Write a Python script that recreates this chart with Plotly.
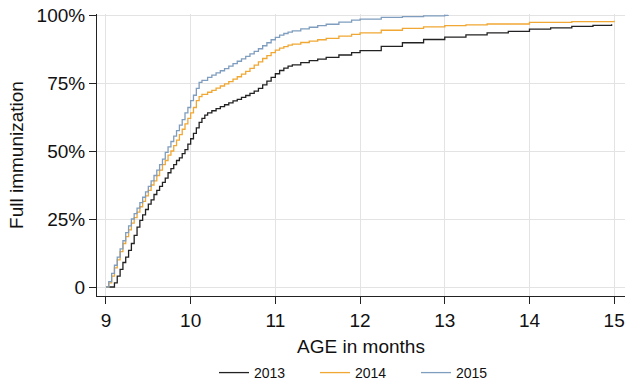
import plotly.graph_objects as go

# ---- data (age in months, cumulative share fully immunized) ----
age_2013 = [9.000, 9.033, 9.067, 9.100, 9.133, 9.167, 9.200, 9.233, 9.267, 9.300,
            9.333, 9.367, 9.400, 9.433, 9.467, 9.500, 9.533, 9.567, 9.600, 9.633,
            9.667, 9.700, 9.733, 9.767, 9.800, 9.833, 9.867, 9.900, 9.933, 9.967,
            10.000, 10.033, 10.067, 10.100, 10.133, 10.167, 10.2, 10.25, 10.3, 10.35,
            10.4, 10.45, 10.5, 10.55, 10.6, 10.65, 10.7, 10.75, 10.8, 10.85,
            10.9, 10.95, 11.0, 11.05, 11.1, 11.15, 11.2, 11.3, 11.4, 11.5,
            11.6, 11.75, 11.9, 12.0, 12.25, 12.5, 12.75, 13.0, 13.25, 13.5,
            13.75, 14.0, 14.25, 14.5, 14.75, 14.97]
imm_2013 = [0.0, 0.0, 0.0, 0.015, 0.04, 0.065, 0.09, 0.11, 0.135, 0.16,
            0.19, 0.22, 0.245, 0.265, 0.285, 0.305, 0.32, 0.34, 0.355, 0.37,
            0.385, 0.40, 0.42, 0.435, 0.45, 0.465, 0.475, 0.49, 0.505, 0.525,
            0.545, 0.565, 0.585, 0.605, 0.62, 0.632, 0.64, 0.648, 0.656, 0.663,
            0.67, 0.677, 0.684, 0.69, 0.697, 0.704, 0.712, 0.72, 0.73, 0.743,
            0.757, 0.771, 0.784, 0.796, 0.805, 0.812, 0.817, 0.825, 0.832, 0.838,
            0.844, 0.853, 0.862, 0.869, 0.885, 0.898, 0.91, 0.919, 0.927, 0.934,
            0.94, 0.948, 0.953, 0.958, 0.962, 0.966]

age_2014 = [9.000, 9.033, 9.067, 9.100, 9.133, 9.167, 9.200, 9.233, 9.267, 9.300,
            9.333, 9.367, 9.400, 9.433, 9.467, 9.500, 9.533, 9.567, 9.600, 9.633,
            9.667, 9.700, 9.733, 9.767, 9.800, 9.833, 9.867, 9.900, 9.933, 9.967,
            10.000, 10.033, 10.067, 10.100, 10.133, 10.2, 10.25, 10.3, 10.35, 10.4,
            10.45, 10.5, 10.55, 10.6, 10.65, 10.7, 10.75, 10.8, 10.85, 10.9,
            10.95, 11.0, 11.05, 11.1, 11.15, 11.2, 11.3, 11.4, 11.5, 11.6,
            11.75, 11.9, 12.0, 12.25, 12.5, 12.75, 13.0, 13.25, 13.5, 14.0,
            14.5, 15.0]
imm_2014 = [0.0, 0.015, 0.04, 0.07, 0.10, 0.13, 0.16, 0.185, 0.21, 0.235,
            0.255, 0.275, 0.295, 0.315, 0.335, 0.355, 0.375, 0.39, 0.41, 0.43,
            0.45, 0.465, 0.485, 0.50, 0.52, 0.54, 0.56, 0.58, 0.60, 0.62,
            0.64, 0.66, 0.685, 0.70, 0.708, 0.716, 0.723, 0.731, 0.739, 0.747,
            0.755, 0.764, 0.773, 0.783, 0.793, 0.804, 0.816, 0.828, 0.84, 0.851,
            0.862, 0.871, 0.878, 0.884, 0.889, 0.893, 0.899, 0.904, 0.909, 0.914,
            0.922, 0.929, 0.934, 0.944, 0.951, 0.956, 0.961, 0.964, 0.967, 0.973,
            0.976, 0.979]

age_2015 = [9.000, 9.033, 9.067, 9.100, 9.133, 9.167, 9.200, 9.233, 9.267, 9.300,
            9.333, 9.367, 9.400, 9.433, 9.467, 9.500, 9.533, 9.567, 9.600, 9.633,
            9.667, 9.700, 9.733, 9.767, 9.800, 9.833, 9.867, 9.900, 9.933, 9.967,
            10.000, 10.033, 10.067, 10.100, 10.133, 10.2, 10.25, 10.3, 10.35, 10.4,
            10.45, 10.5, 10.55, 10.6, 10.65, 10.7, 10.75, 10.8, 10.85, 10.9,
            10.95, 11.0, 11.05, 11.1, 11.15, 11.2, 11.3, 11.4, 11.5, 11.6,
            11.75, 11.9, 12.0, 12.25, 12.5, 12.75, 13.0, 13.04]
imm_2015 = [0.0, 0.02, 0.05, 0.08, 0.11, 0.14, 0.17, 0.20, 0.225, 0.25,
            0.27, 0.29, 0.31, 0.33, 0.35, 0.37, 0.39, 0.41, 0.43, 0.45,
            0.47, 0.495, 0.515, 0.535, 0.555, 0.575, 0.595, 0.615, 0.64, 0.66,
            0.685, 0.705, 0.73, 0.752, 0.76, 0.771, 0.779, 0.787, 0.795, 0.803,
            0.812, 0.821, 0.83, 0.839, 0.848, 0.857, 0.866, 0.876, 0.887, 0.898,
            0.909, 0.918, 0.926, 0.932, 0.937, 0.942, 0.949, 0.955, 0.961, 0.966,
            0.974, 0.981, 0.985, 0.991, 0.994, 0.997, 0.999, 1.0]

series = [("2013", age_2013, imm_2013, "#222222"),
          ("2014", age_2014, imm_2014, "#F0A733"),
          ("2015", age_2015, imm_2015, "#7F9DBE")]

x_ticks = [9, 10, 11, 12, 13, 14, 15]
y_ticks = [0, 0.25, 0.5, 0.75, 1.0]
y_tick_labels = ["0", "25%", "50%", "75%", "100%"]

FONT = "Liberation Sans, Arial, Helvetica, sans-serif"

fig = go.Figure()
for name, xs, ys, col in series:
    fig.add_trace(go.Scatter(x=xs, y=ys, mode="lines", name=name,
                             line=dict(color=col, width=1.3, shape="hv")))

fig.update_layout(
    width=625, height=383,
    margin=dict(l=97, r=0, t=14, b=87, autoexpand=False),
    paper_bgcolor="white", plot_bgcolor="white",
    font=dict(family=FONT, color="#111111", size=19),
    showlegend=True,
    legend=dict(orientation="h", x=0.2216, xanchor="left", y=-0.273, yanchor="middle",
                font=dict(size=14), entrywidth=56, entrywidthmode="pixels",
                itemwidth=30, bgcolor="rgba(0,0,0,0)"),
)
fig.update_xaxes(range=[8.894, 15.128], tickvals=x_ticks, ticks="outside", ticklen=7,
                 tickcolor="#222", showline=True, linecolor="#222", linewidth=1,
                 showgrid=True, gridcolor="#e3e3e3", gridwidth=1, zeroline=False,
                 automargin=False, ticklabeloverflow="allow",
                 title=dict(text="AGE in months", standoff=9, font=dict(size=19)),
                 tickfont=dict(size=19))
fig.update_yaxes(range=[-0.0331, 1.0037], tickvals=y_ticks, ticktext=y_tick_labels,
                 ticks="outside", ticklen=7, tickcolor="#222", showline=True,
                 linecolor="#222", linewidth=1, showgrid=True, gridcolor="#e3e3e3",
                 gridwidth=1, zeroline=False, automargin=False, ticklabeloverflow="allow",
                 title=dict(text="Full immunization", standoff=7, font=dict(size=19)),
                 tickfont=dict(size=19))

# remove the browser's default 8px page margin so the figure fills the window
fig.write_html("out.html", config={"displayModeBar": False},
               post_script="document.body.style.margin='0px';")
